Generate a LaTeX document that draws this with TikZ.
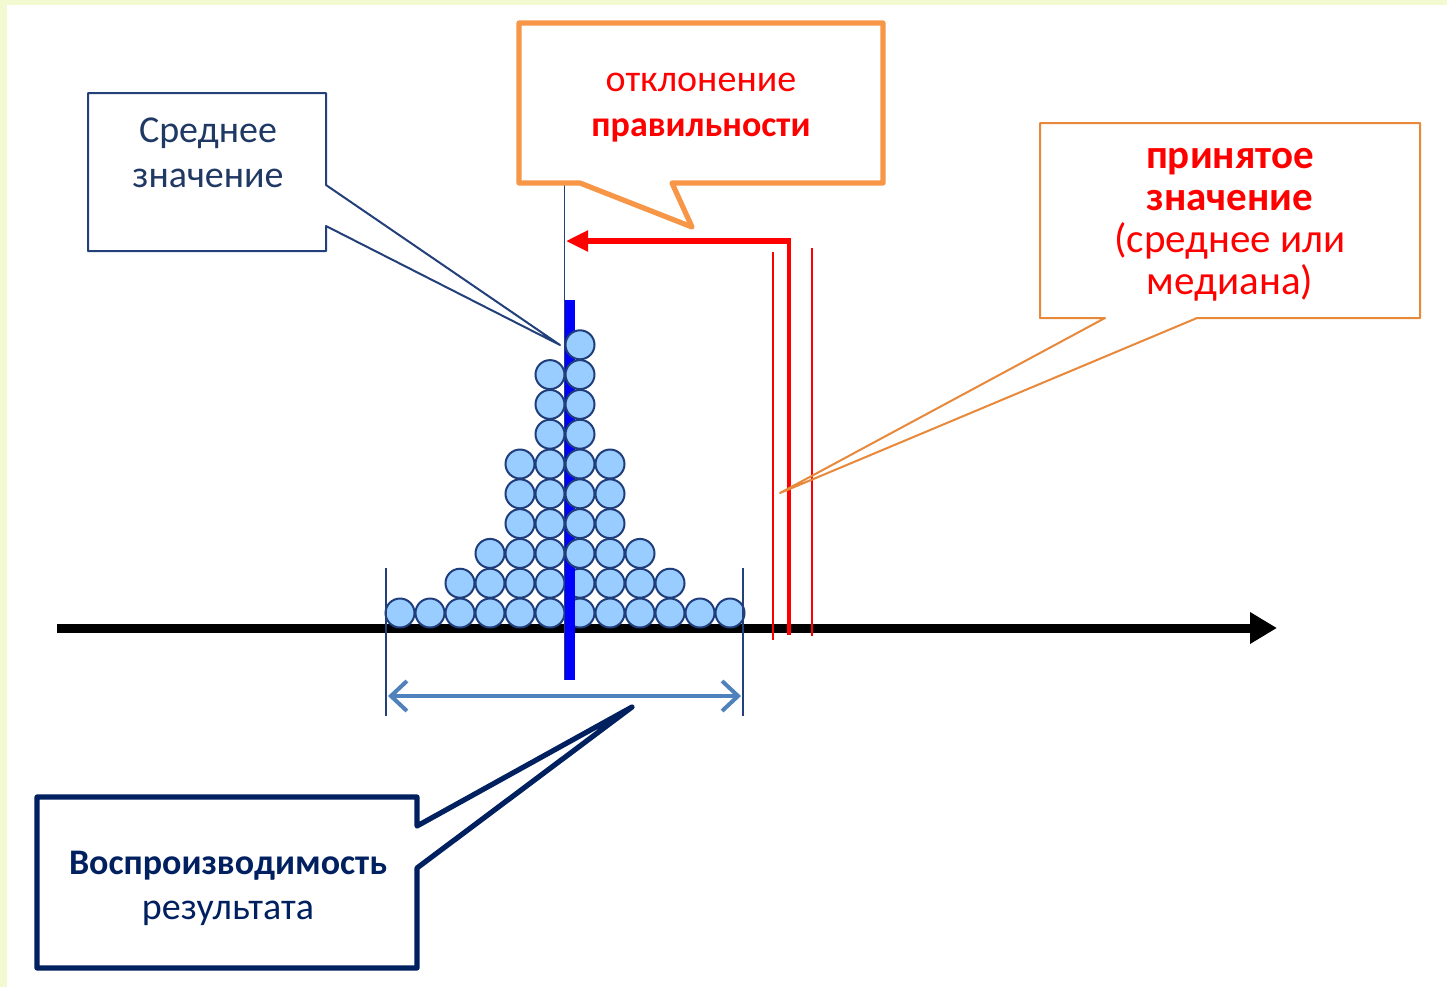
\documentclass[tikz,border=0pt]{standalone}
\usepackage{fontspec}
\setmainfont{Carlito}
\usetikzlibrary{arrows.meta}
\definecolor{boxblue}{HTML}{24407A}
\definecolor{navy}{HTML}{002060}
\definecolor{txtblue}{HTML}{203864}
\definecolor{orangeA}{HTML}{F79646}
\definecolor{orangeB}{HTML}{E8883A}
\definecolor{steel}{HTML}{4F81BD}
\definecolor{ballfill}{HTML}{99CCFF}
\definecolor{ballline}{HTML}{1F3D7A}
\definecolor{brd}{HTML}{F3FAD2}
\newcommand{\rg}{\fontsize{19}{22.5}\selectfont}
\newcommand{\bd}{\fontsize{18}{22.5}\selectfont\bfseries}
\begin{document}
\begin{tikzpicture}[x=0.5pt,y=-0.5pt,
  ball/.style={circle,draw=ballline,fill=ballfill,line width=1pt,minimum size=14.5pt,inner sep=0pt},
  lbl/.style={align=center,font=\fontsize{19}{22.5}\selectfont,inner sep=0pt},
  callout/.style={line join=round}]
\useasboundingbox (0,0) rectangle (1447,987);
\fill[white] (0,0) rectangle (1447,987);
\fill[brd] (0,0) rectangle (1447,5);
\fill[brd] (0,0) rectangle (7,987);

% axis
\coordinate (ax0) at (57,628);
\coordinate (ax1) at (1277,628);
\draw[line width=4.5pt,-{Triangle[length=13.5pt,width=15pt]}] (ax0) -- (ax1);

% blue bar (under balls)
\fill[blue] (565,300) rectangle (575,680);

% balls
\foreach \r/\a/\n in {0/400/11,1/460/7,2/490/5,3/520/3,4/520/3,5/520/3,6/550/1,7/550/1,8/550/1,9/580/0}{
  \foreach \k in {0,...,\n}{
    \node[ball] (b\r-\k) at ({\a+30*\k},{613-29.8*\r}) {};
  }
}
% bar on top in lower rows
\fill[blue] (565,568) rectangle (575,680);
% thin line along bar
\coordinate (tl0) at (564.5,183);
\coordinate (tl1) at (564.5,680);
\draw[boxblue,line width=0.8pt] (tl0) -- (tl1);

% range marks and double arrow
\coordinate (rl0) at (386,568); \coordinate (rl1) at (386,716);
\coordinate (rr0) at (743,568); \coordinate (rr1) at (743,716);
\draw[boxblue,line width=0.7pt] (rl0) -- (rl1);
\draw[boxblue,line width=0.7pt] (rr0) -- (rr1);
\coordinate (da0) at (388,696); \coordinate (da1) at (741,696);
\draw[steel,line width=2pt,{Straight Barb[length=8pt,width=15pt,line width=2pt]}-{Straight Barb[length=8pt,width=15pt,line width=2pt]}] (da0) -- (da1);

% red accepted value lines
\coordinate (ra0) at (773,252); \coordinate (ra1) at (773,640);
\coordinate (rb0) at (789,241); \coordinate (rb1) at (789,635);
\coordinate (rc0) at (812,248); \coordinate (rc1) at (812,636);
\draw[red,line width=0.7pt] (ra0) -- (ra1);
\draw[red,line width=2.4pt] (rb0) -- (rb1);
\draw[red,line width=0.7pt] (rc0) -- (rc1);
% red arrow
\coordinate (rs) at (791,241); \coordinate (re) at (566,241);
\draw[red,line width=2.6pt,-{Triangle[length=11pt,width=10pt]}] (rs) -- (re);

% callout: Среднее значение
\draw[boxblue,line width=1pt,callout] (88,93) -- (326,93) -- (326,185) -- (560,345) -- (326,226) -- (326,251) -- (88,251) -- cycle;
\node[lbl,text=txtblue] (mean) at (208,153) {Среднее\\значение};

% callout: отклонение правильности
\draw[orangeA,line width=2.6pt,callout] (519,23) -- (883,23) -- (883,183) -- (672,183) -- (692,227) -- (580,183) -- (519,183) -- cycle;
\node[lbl,text=red] (dev) at (701,108) {отклонение\\{\bd правильности}};

% callout: принятое значение
\draw[orangeB,line width=1pt,callout] (1040,123) -- (1420,123) -- (1420,318) -- (1197,318) -- (780,493) -- (1105,318) -- (1040,318) -- cycle;
\node[lbl,text=red,font=\fontsize{20.5}{21}\selectfont] (acc) at (1230,225) {\textbf{принятое}\\\textbf{значение}\\(среднее или\\медиана)};

% callout: Воспроизводимость
\draw[navy,line width=2.6pt,callout] (37,797) -- (417,797) -- (417,826) -- (632,707) -- (417,868) -- (417,968) -- (37,968) -- cycle;
\node[lbl,text=navy] (rep) at (228,888) {{\bd Воспроизводимость}\\результата};
\end{tikzpicture}
\end{document}
